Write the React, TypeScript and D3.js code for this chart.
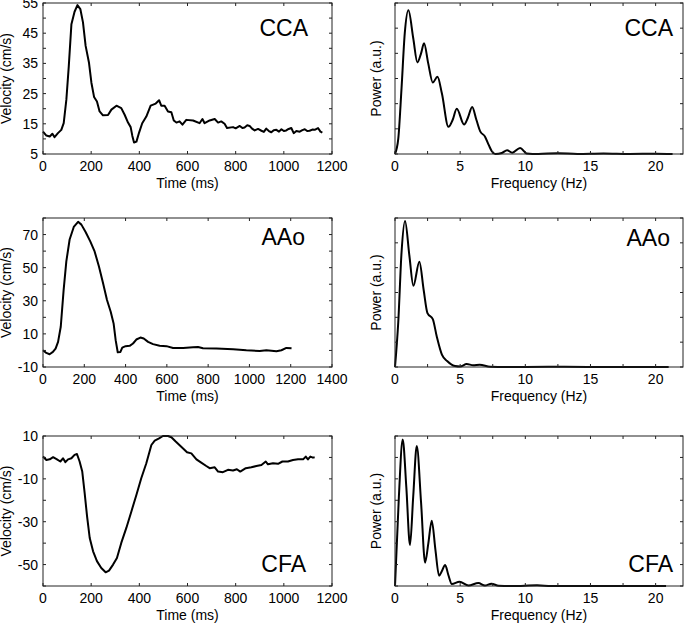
import React from 'react';
import * as d3 from 'd3';

// ---------- Data ----------
const ccaTime = [0, 14, 28, 39, 48, 62, 76, 86, 97, 107, 118, 131, 143, 155, 166, 177, 191, 201, 212, 224, 235, 249, 270, 284, 305, 325, 339, 353, 364, 371, 378, 388, 399, 412, 429, 447, 468, 482, 491, 505, 519, 533, 543, 554, 567, 579, 595, 623, 650, 662, 671, 692, 713, 727, 740, 754, 764, 789, 800, 817, 828, 837, 848, 858, 868, 879, 893, 907, 917, 927, 938, 948, 958, 969, 980, 990, 1000, 1010, 1020, 1031, 1041, 1052, 1066, 1077, 1087, 1097, 1107, 1118, 1128, 1142, 1152, 1160];
const ccaVel = [12.4, 11.1, 10.8, 11.7, 10.6, 11.9, 13, 15.2, 23, 34, 48, 52.1, 54.3, 53, 48.6, 40.8, 35.2, 28.6, 23.9, 22.4, 19.1, 17.8, 17.9, 19.7, 21, 20.2, 18, 15.4, 13.9, 11, 8.8, 9.1, 12.1, 15.2, 17.4, 21, 21.7, 22.8, 21, 21, 19.1, 18.8, 16.1, 15.4, 15.8, 14.7, 16.3, 16.1, 15.2, 16.6, 15.2, 16.1, 16.6, 15.4, 15.8, 15, 13.6, 13.9, 13.5, 14.3, 13.6, 13.8, 14.5, 14.3, 13.4, 12.8, 13.3, 12.7, 12.3, 13.4, 12.6, 12.2, 12.9, 13, 12.4, 13.2, 12.6, 12.8, 13.3, 13.6, 11.9, 12.6, 12.4, 12.9, 13.2, 12.6, 12.7, 13.1, 13, 13.6, 12.4, 12.1];

const aaoTime = [0, 16, 32, 48, 61, 73, 86, 100, 113, 129, 149, 170, 186, 207, 229, 250, 271, 291, 310, 328, 342, 352, 362, 375, 384, 400, 420, 436, 452, 472, 488, 509, 533, 565, 598, 630, 679, 727, 751, 775, 840, 921, 985, 1050, 1082, 1131, 1155, 1179, 1204];
const aaoVel = [0.1, -1.5, -2.3, -0.9, 1.1, 5.2, 14.3, 36.6, 53.8, 67, 74.6, 77.7, 76, 71.4, 65.9, 59.8, 50.7, 40.6, 30.5, 23.4, 16.3, 6.2, -1.1, -0.9, 1.7, 2.6, 2.8, 4.2, 6.6, 7.8, 7.2, 5.2, 3.8, 2.8, 2.6, 1.5, 1.5, 1.9, 2.1, 1.3, 1.1, 0.7, 0.1, -0.3, 0.1, -0.5, 0.1, 1.5, 1.3];

const cfaTime = [0, 14, 28, 42, 58, 72, 83, 93, 104, 118, 131, 141, 152, 163, 173, 183, 194, 208, 224, 242, 260, 274, 291, 307, 325, 346, 367, 388, 408, 429, 450, 464, 482, 498, 519, 533, 551, 574, 598, 616, 637, 657, 678, 692, 713, 727, 747, 768, 789, 805, 819, 842, 865, 886, 907, 925, 934, 955, 976, 994, 1017, 1038, 1059, 1080, 1091, 1100, 1110, 1121, 1128];
const cfaVel = [0.4, -1.2, -0.9, 0.1, -0.9, -1.9, -0.4, -2.2, -0.9, -0.4, 1.2, 1.6, -1.9, -6.6, -16.7, -27.5, -37.6, -43.8, -48.4, -51.6, -53.6, -52.8, -50, -46.9, -39.9, -32.9, -25.2, -17.4, -9.7, -2.7, 5.8, 7.8, 8.9, 10, 10, 9.4, 7.4, 5, 2.4, 1.9, -0.9, -2.4, -4, -5, -4.6, -6.6, -6.9, -5.8, -6.1, -5.5, -6.6, -5, -4.6, -4, -3.5, -1.9, -3.2, -2.7, -3, -1.9, -1.9, -1.2, -0.9, -0.9, 0.4, -0.9, 0.4, -0.1, 0.1];

const ccaFreq = [0, 0.25, 0.5, 0.75, 1.03, 1.4, 1.72, 2.0, 2.23, 2.55, 2.9, 3.26, 3.6, 4.1, 4.42, 4.74, 5.3, 5.6, 5.92, 6.25, 6.54, 6.9, 7.2, 7.44, 7.7, 8.2, 8.6, 9.0, 9.6, 10.1, 11, 12.5, 14, 16, 18, 20, 21.3];
const ccaPow = [0, 0.6, 2.6, 4.8, 5.71, 4.6, 3.64, 4.0, 4.4, 3.6, 2.84, 3.07, 2.4, 1.08, 1.35, 1.8, 1.17, 1.45, 1.87, 1.35, 0.9, 0.7, 0.35, 0.1, 0.0, 0.04, 0.15, 0.05, 0.24, 0.02, 0.0, 0.03, 0.0, 0.02, 0.0, 0.01, 0.0];

const aaoFreq = [0, 0.25, 0.5, 0.77, 1.1, 1.41, 1.87, 2.2, 2.49, 2.9, 3.2, 3.6, 4.0, 4.6, 5.0, 5.5, 6.0, 6.5, 7.3, 8.5, 10, 13, 16, 19, 21.0];
const aaoPow = [0, 1.8, 4.6, 5.88, 4.5, 3.27, 4.24, 3.1, 2.17, 1.93, 1.24, 0.5, 0.24, 0.04, 0.02, 0.12, 0.07, 0.09, 0.01, 0.0, 0.0, 0.01, 0.0, 0.0, 0.0];

const cfaFreq = [0, 0.3, 0.59, 0.87, 1.15, 1.4, 1.67, 2.0, 2.31, 2.56, 2.82, 3.1, 3.38, 3.6, 3.85, 4.1, 4.36, 4.95, 5.64, 6.4, 6.9, 7.4, 7.95, 9, 10.9, 12, 15, 18, 20.8];
const cfaPow = [0, 4.2, 6.84, 4.6, 1.91, 4.2, 6.53, 3.9, 1.09, 2.0, 3.05, 1.7, 0.48, 0.7, 0.98, 0.5, 0.09, 0.2, 0.02, 0.14, 0.02, 0.11, 0.01, 0.0, 0.03, 0.0, 0.0, 0.0, 0.0];

const timeTicks1200 = [0, 200, 400, 600, 800, 1000, 1200];
const timeTicks1400 = [0, 200, 400, 600, 800, 1000, 1200, 1400];
const freqTicks = [0, 2.5, 5, 7.5, 10, 12.5, 15, 17.5, 20];
const freqLabels = [0, 5, 10, 15, 20];
const ccaYTicks = [5, 10, 15, 20, 25, 30, 35, 40, 45, 50, 55];
const ccaYLabels = [5, 15, 25, 35, 45, 55];
const aaoYTicks = [-10, 0, 10, 20, 30, 40, 50, 60, 70, 80];
const aaoYLabels = [-10, 10, 30, 50, 70];
const cfaYTicks = [-60, -50, -40, -30, -20, -10, 0, 10];
const cfaYLabels = [-50, -30, -10, 10];
const pow6Ticks = [0, 1, 2, 3, 4, 5, 6];
const pow7Ticks = [0, 1, 2, 3, 4, 5, 6, 7];

const FONT = 'Arial, "Liberation Sans", Helvetica, sans-serif';

type PanelProps = {
  x0: number; x1: number; y0: number; y1: number;
  xDomain: [number, number]; yDomain: [number, number];
  xTicks: number[]; xLabels: number[];
  yTicks: number[]; yLabels: number[];
  xv: number[]; yv: number[];
  smooth: boolean;
  xTitle: string; yTitle: string; yTitleX: number;
  name: string; nameX: number; nameY: number;
};

function Panel(p: PanelProps) {
  const xs = d3.scaleLinear().domain(p.xDomain).range([p.x0, p.x1]);
  const ys = d3.scaleLinear().domain(p.yDomain).range([p.y1, p.y0]);
  const pts: [number, number][] = p.xv.map((v, i) => [v, p.yv[i]]);
  const line = d3.line<[number, number]>()
    .x(d => xs(d[0]))
    .y(d => ys(d[1]))
    .curve(p.smooth ? d3.curveMonotoneX : d3.curveLinear);
  const tl = 3;
  const stroke = '#222';
  return (
    <g>
      <path d={line(pts) || ''} fill="none" stroke="#000" strokeWidth={2} strokeLinejoin="round" />
      <rect x={p.x0} y={p.y0} width={p.x1 - p.x0} height={p.y1 - p.y0} fill="none" stroke={stroke} strokeWidth={1} />
      {p.xTicks.map(t => (
        <g key={'xt' + t}>
          <line x1={xs(t)} x2={xs(t)} y1={p.y1} y2={p.y1 - tl} stroke={stroke} />
          <line x1={xs(t)} x2={xs(t)} y1={p.y0} y2={p.y0 + tl} stroke={stroke} />
        </g>
      ))}
      {p.yTicks.map(t => (
        <g key={'yt' + t}>
          <line x1={p.x0} x2={p.x0 + tl} y1={ys(t)} y2={ys(t)} stroke={stroke} />
          <line x1={p.x1} x2={p.x1 - tl} y1={ys(t)} y2={ys(t)} stroke={stroke} />
        </g>
      ))}
      {p.xLabels.map(t => (
        <text key={'xl' + t} x={xs(t)} y={p.y1 + 17} textAnchor="middle" fontSize={14} fontFamily={FONT} fill="#000">{t}</text>
      ))}
      {p.yLabels.map(t => (
        <text key={'yl' + t} x={p.x0 - 5} y={ys(t)} dy="0.36em" textAnchor="end" fontSize={14} fontFamily={FONT} fill="#000">{t}</text>
      ))}
      <text x={(p.x0 + p.x1) / 2} y={p.y1 + 34} textAnchor="middle" fontSize={14} fontFamily={FONT} fill="#000">{p.xTitle}</text>
      <text transform={`translate(${p.yTitleX},${(p.y0 + p.y1) / 2}) rotate(-90)`} textAnchor="middle" fontSize={14} fontFamily={FONT} fill="#000">{p.yTitle}</text>
      <text x={p.nameX} y={p.nameY} textAnchor="end" fontSize={23} fontFamily={FONT} fill="#000">{p.name}</text>
    </g>
  );
}

export default function App() {
  const L = { x0: 43, x1: 332, yTitleX: 11 };
  const R = { x0: 395, x1: 683, yTitleX: 381 };
  const rows = [
    { y0: 3, y1: 154 },
    { y0: 218, y1: 367 },
    { y0: 436, y1: 586 },
  ];
  return (
    <svg width={685} height={624} style={{ position: 'absolute', left: 0, top: 0, background: '#fff' }}>
      <rect x={0} y={0} width={685} height={624} fill="#fff" />
      <Panel {...L} {...rows[0]} xDomain={[0, 1200]} yDomain={[5, 55]} xTicks={timeTicks1200} xLabels={timeTicks1200}
        yTicks={ccaYTicks} yLabels={ccaYLabels} xv={ccaTime} yv={ccaVel} smooth={false}
        xTitle="Time (ms)" yTitle="Velocity (cm/s)" name="CCA" nameX={308} nameY={36} />
      <Panel {...R} {...rows[0]} xDomain={[0, 22.1]} yDomain={[0, 6]} xTicks={freqTicks} xLabels={freqLabels}
        yTicks={pow6Ticks} yLabels={[]} xv={ccaFreq} yv={ccaPow} smooth={true}
        xTitle="Frequency (Hz)" yTitle="Power (a.u.)" name="CCA" nameX={673} nameY={36} />
      <Panel {...L} {...rows[1]} xDomain={[0, 1400]} yDomain={[-10, 80]} xTicks={timeTicks1400} xLabels={timeTicks1400}
        yTicks={aaoYTicks} yLabels={aaoYLabels} xv={aaoTime} yv={aaoVel} smooth={false}
        xTitle="Time (ms)" yTitle="Velocity (cm/s)" name="AAo" nameX={305} nameY={245} />
      <Panel {...R} {...rows[1]} xDomain={[0, 22.1]} yDomain={[0, 6]} xTicks={freqTicks} xLabels={freqLabels}
        yTicks={pow6Ticks} yLabels={[]} xv={aaoFreq} yv={aaoPow} smooth={true}
        xTitle="Frequency (Hz)" yTitle="Power (a.u.)" name="AAo" nameX={670} nameY={246} />
      <Panel {...L} {...rows[2]} xDomain={[0, 1200]} yDomain={[-60, 10]} xTicks={timeTicks1200} xLabels={timeTicks1200}
        yTicks={cfaYTicks} yLabels={cfaYLabels} xv={cfaTime} yv={cfaVel} smooth={false}
        xTitle="Time (ms)" yTitle="Velocity (cm/s)" name="CFA" nameX={306} nameY={572} />
      <Panel {...R} {...rows[2]} xDomain={[0, 22.1]} yDomain={[0, 7]} xTicks={freqTicks} xLabels={freqLabels}
        yTicks={pow7Ticks} yLabels={[]} xv={cfaFreq} yv={cfaPow} smooth={true}
        xTitle="Frequency (Hz)" yTitle="Power (a.u.)" name="CFA" nameX={673} nameY={572} />
    </svg>
  );
}
